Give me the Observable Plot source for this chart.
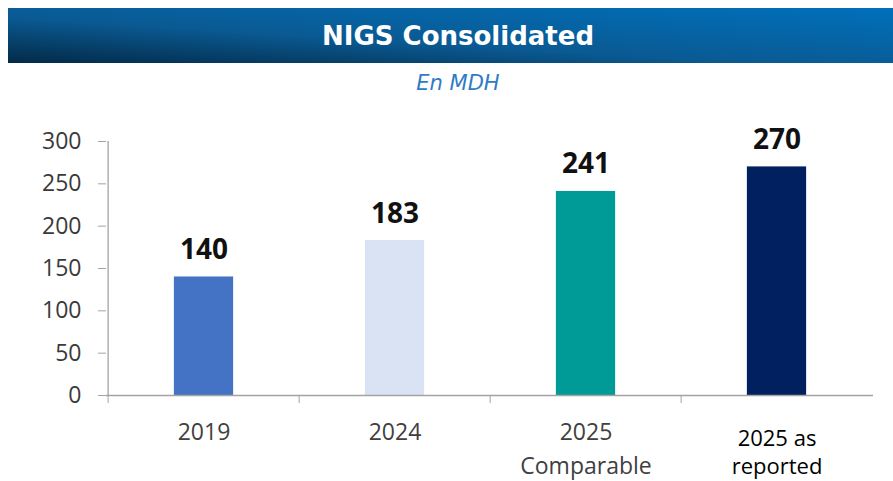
<!DOCTYPE html>
<html><head><meta charset="utf-8">
<script src="https://cdn.jsdelivr.net/npm/d3@7"></script>
<script src="https://cdn.jsdelivr.net/npm/@observablehq/plot@0.6"></script>
<style>
body{margin:0;background:#fff;width:893px;height:481px;overflow:hidden;font-family:"Open Sans",sans-serif}
#head{position:relative;height:100px}
#banner{position:absolute;left:8px;top:8px;width:885px;height:55px;box-sizing:border-box;padding-left:15px;
 background:linear-gradient(to top right,#032a47 0%,#0a5a93 42%,#0070bb 100%);
 color:#fff;font:bold 26px "DejaVu Sans",sans-serif;display:flex;align-items:center;justify-content:center}
#sub{position:absolute;top:70px;left:0;width:893px;box-sizing:border-box;padding-left:23px;text-align:center;
 font:italic 21px/26px "DejaVu Sans",sans-serif;color:#2f7cc4}
</style></head>
<body>
<div id="head"><div id="banner">NIGS Consolidated</div><div id="sub">En MDH</div></div>
<div id="chart"></div>
<script>
const categories = ["2019", "2024", "2025\nComparable", "2025 as\nreported"];
const values = [140, 183, 241, 270];
const colors = ["#4472c4", "#dae3f3", "#009a97", "#002060"];
const yTicks = [0, 50, 100, 150, 200, 250, 300];

const data = categories.map((c, i) => ({category: c, value: values[i], color: colors[i]}));

const W = 893, H = 381, mL = 106, mR = 20, mT = 41, mB = 86;
const step = (W - mL - mR) / categories.length;
const barW = 60;
const inset = (step - barW) / 2;
const axisColor = "#a3a3a3";

const chart = Plot.plot({
  width: W, height: H,
  marginLeft: mL, marginRight: mR, marginTop: mT, marginBottom: mB,
  style: {fontFamily: "'Open Sans', sans-serif", color: "#3a3a3a", background: "#fff", overflow: "visible"},
  x: {domain: categories, padding: 0, axis: null},
  y: {domain: [0, 300], axis: null},
  marks: [
    Plot.barY(data, {x: "category", y: "value", fill: "color", insetLeft: inset, insetRight: inset}),
    Plot.ruleY([0], {stroke: axisColor, strokeWidth: 1.3}),
    Plot.ruleX([categories[0]], {y1: 0, y2: 300, dx: -step / 2, stroke: axisColor, strokeWidth: 1.3}),
    Plot.axisY({ticks: yTicks, tickSize: 8, tickPadding: 17, fontSize: 23, stroke: axisColor, label: null}),
    Plot.axisX({tickSize: 8, text: null, dx: -step / 2, stroke: axisColor, label: null}),
    Plot.text(data.slice(0, 3), {x: "category", text: "category", frameAnchor: "bottom", lineAnchor: "top",
      dy: 20, fontSize: 23, lineHeight: 1.48, fill: "#404040"}),
    Plot.text(data.slice(3), {x: "category", text: "category", frameAnchor: "bottom", lineAnchor: "top",
      dy: 30, fontSize: 22, lineHeight: 1.3, fill: "#000"}),
    Plot.text(data, {x: "category", y: "value", text: d => String(d.value), lineAnchor: "bottom",
      dy: -18, fontSize: 28, fontWeight: "bold", fill: "#111"})
  ]
});
document.getElementById("chart").appendChild(chart);
</script>
</body></html>
